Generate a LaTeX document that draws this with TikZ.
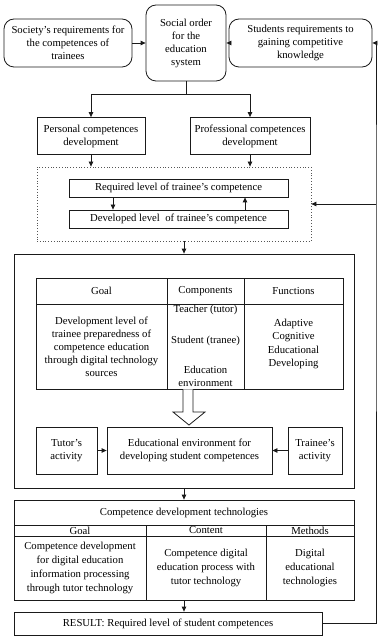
\documentclass[tikz,border=0pt]{standalone}
\usepackage{fontspec}
\setmainfont{Liberation Serif}
\usetikzlibrary{positioning,calc,arrows.meta}
\definecolor{DInk}{HTML}{1A1A1A}
\definecolor{DGray}{HTML}{555555}

\tikzset{
  box/.style={draw=DInk, line width=0.8pt, inner sep=0pt, align=center,
    font=\fontsize{10.7}{13}\selectfont},
  rbox/.style={box, rounded corners=10pt},
  flow/.style={draw=DInk, line width=0.8pt, -{Triangle[length=5pt,width=4.5pt]}},
}

\begin{document}
\begin{tikzpicture}[x=1pt, y=-1pt]
\useasboundingbox (0,0) rectangle (384,644);
% demand side
\node[rbox, minimum width=128pt, minimum height=48pt] (soc) at (68,43)
  {Society's requirements for\\the competences of\\trainees};
\node[rbox, minimum width=80pt, minimum height=76pt] (order) at (186,43)
  {Social order\\for the\\education\\system};
\node[rbox, minimum width=143pt, minimum height=48pt] (stud) at (300.5,43)
  {Students requirements to\\gaining competitive\\knowledge};
\draw[flow] (soc) -- (order);
\draw[flow] (stud) -- (order);

% competences
\node[box, minimum width=108pt, minimum height=37pt] (pers) at (91,136)
  {Personal competences\\development};
\node[box, minimum width=120pt, minimum height=37pt] (prof) at (250,136)
  {Professional competences\\development};
\coordinate (split) at (186,94);
\draw[line width=0.8pt, draw=DInk] (order.south) -- (split);
\draw[flow] (split) -| (pers.north);
\draw[flow] (split) -| (prof.north);

% levels
\node[draw=DGray, dotted, line width=0.8pt, minimum width=274pt, minimum height=74pt] (lvl) at (174,204) {};
\node[box, minimum width=219pt, minimum height=18pt] (req) at (178.5,188)
  {Required level of trainee's competence};
\node[box, minimum width=219pt, minimum height=18pt] (dev) at (178.5,219)
  {Developed level\ \ of trainee's competence};
\draw[flow] (pers.south) -- (pers.south |- lvl.north);
\draw[flow] (prof.south) -- (prof.south |- lvl.north);
\draw[flow] (req.south -| 113,0) -- (dev.north -| 113,0);
\draw[flow] (dev.north -| 245,0) -- (req.south -| 245,0);

% educational environment
\node[box, minimum width=340pt, minimum height=234pt] (env) at (184,371) {};
\draw[flow] (lvl.south -| env.north) -- (env.north);
\foreach \n/\cx/\w/\name in {g/101.5/131/Goal, c/205.5/77/Components, f/293.5/99/Functions}{
  \node[box, minimum width=\w pt, minimum height=26pt] (h\n) at (\cx,291) {\name};
  \node[box, minimum width=\w pt, minimum height=85pt] (b\n) at (\cx,346.5) {};
}
\node[align=center, font=\fontsize{10.7}{13}\selectfont] at (bg)
  {Development level of\\trainee preparedness of\\competence education\\through digital technology\\sources};
\node[align=center, font=\fontsize{10.7}{13}\selectfont, inner sep=0pt] at (205.5,346)
  {Teacher (tutor)\\[18pt]Student (tranee)\\[17pt]Education\\environment};
\node[align=center, font=\fontsize{10.7}{13.5}\selectfont] at (293.5,344)
  {Adaptive\\Cognitive\\Educational\\Developing};
\draw[line width=0.8pt, draw=DInk, fill=white] (bc.south -| 183,0) -- (183,412) -- (173,412)
  -- (189,425) -- (205,412) -- (193,412) -- (bc.south -| 193,0);
\node[box, minimum width=61pt, minimum height=47pt] (tut) at (66.5,450.5)
  {Tutor's\\activity};
\node[box, minimum width=165pt, minimum height=47pt] (edu) at (189.5,450.5)
  {Educational environment for\\developing student competences};
\node[box, minimum width=54pt, minimum height=47pt] (trn) at (315,450.5)
  {Trainee's\\activity};
\draw[flow] (tut) -- (edu);
\draw[flow] (trn) -- (edu);

% technologies
\node[box, minimum width=340pt, minimum height=25pt] (tech) at (184,512.5)
  {Competence development technologies};
\draw[flow] (env.south) -- (tech.north);
\foreach \n/\cx/\w/\name/\body in {%
  g/80/132/Goal/{Competence development\\for digital education\\information processing\\through tutor technology},
  c/206/120/Content/{Competence digital\\education process with\\tutor technology},
  m/310/88/Methods/{Digital\\educational\\technologies}}{
  \node[box, minimum width=\w pt, minimum height=11pt] (t\n) at (\cx,530.5) {\name};
  \node[box, minimum width=\w pt, minimum height=64pt, font=\fontsize{10.7}{14}\selectfont] (u\n) at (\cx,568) {\body};
}
\node[box, minimum width=308pt, minimum height=23pt] (res) at (168,623.5)
  {RESULT: Required level of student competences};
\draw[flow] (uc.south -| tech.south) -- (tech.south |- res.north);

% feedback
\coordinate (rail) at (376,204);
\draw[flow] (res.east) -| (rail) |- (stud.east);
\draw[flow] (rail) -- (lvl.east);
\end{tikzpicture}
\end{document}
